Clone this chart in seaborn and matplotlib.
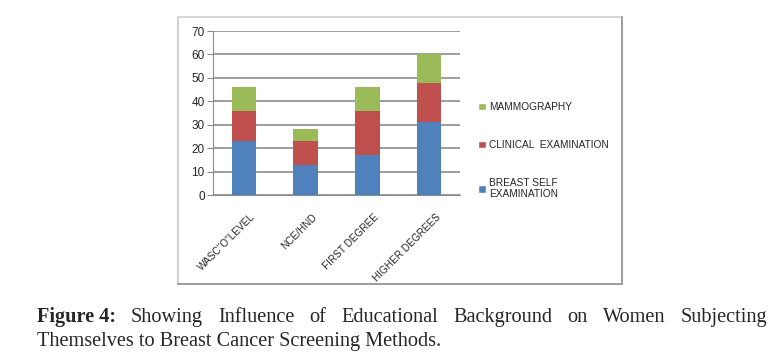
import numpy as np
import pandas as pd
import matplotlib
matplotlib.use("Agg")
import matplotlib.pyplot as plt
from matplotlib.patches import Patch
from matplotlib.lines import Line2D
import matplotlib.transforms as mtransforms
import seaborn as sns

# Datos
levels = ["WASC\"O\"LEVEL", "NCE/HND", "FIRST DEGREE", "HIGHER DEGREES"]
breast_self = [23, 13, 17, 31]
clinical = [13, 10, 19, 17]
mammography = [10, 5, 10, 12]

series_names = ["MAMMOGRAPHY", "CLINICAL  EXAMINATION", "BREAST SELF\nEXAMINATION"]
colors = {"blue": "#4F81BD", "red": "#C0504D", "green": "#9BBB59"}

sns.set_style("white")
plt.rcParams["font.family"] = ["Liberation Sans", "DejaVu Sans"]

W, H = 775, 362
fig = plt.figure(figsize=(W / 100, H / 100), dpi=100)
fig.patch.set_facecolor("white")

# ejes en píxeles: x 213-460, y 31-195
ax = fig.add_axes([213 / W, 1 - 195 / H, (460 - 213) / W, (195 - 31) / H])

df = pd.DataFrame({"nivel": levels,
                   "b": breast_self,
                   "c": clinical,
                   "m": mammography})
df["bc"] = df["b"] + df["c"]
df["bcm"] = df["bc"] + df["m"]

# barras apiladas: se dibuja primero el total
sns.barplot(data=df, x="nivel", y="bcm", color=colors["green"], width=0.4,
            saturation=1, linewidth=0, ax=ax, zorder=3)
sns.barplot(data=df, x="nivel", y="bc", color=colors["red"], width=0.4,
            saturation=1, linewidth=0, ax=ax, zorder=3)
sns.barplot(data=df, x="nivel", y="b", color=colors["blue"], width=0.4,
            saturation=1, linewidth=0, ax=ax, zorder=3)

ax.set_ylim(0, 70)
ax.set_xlim(-0.5, 3.5)
ax.set_yticks(range(0, 71, 10))
ax.yaxis.grid(True, color="#8c8c8c", linewidth=1.2, zorder=0)
ax.set_axisbelow(True)
ax.set_xlabel("")
ax.set_ylabel("")
for s in ["top", "right"]:
    ax.spines[s].set_visible(False)
ax.spines["left"].set_color("#8c8c8c")
ax.spines["bottom"].set_color("#8c8c8c")
ax.tick_params(axis="y", length=4, color="#8c8c8c", labelsize=8.5, pad=2, left=True)
ax.tick_params(axis="x", length=0, pad=12)
ax.set_xticks(range(4))
ax.set_xticklabels(levels, rotation=45, ha="right", rotation_mode="anchor",
                   fontsize=7.2)
for t in ax.get_xticklabels():
    t.set_transform(t.get_transform() + mtransforms.ScaledTranslation(
        6 / 100, 0, fig.dpi_scale_trans))

# leyenda
handles = [Patch(facecolor=colors["green"]), Patch(facecolor=colors["red"]),
           Patch(facecolor=colors["blue"])]
fig.legend(handles, series_names, loc="upper left",
           bbox_to_anchor=(469 / W, 1 - 93 / H), frameon=False, fontsize=7.3,
           handlelength=0.8, handleheight=0.8, handletextpad=0.3,
           labelspacing=2.75)

# marco del gráfico
fig.add_artist(Line2D([178 / W, 178 / W], [1 - 17 / H, 1 - 284 / H],
                      color="#d0d0d0", lw=1.5))
fig.add_artist(Line2D([178 / W, 622 / W], [1 - 17 / H, 1 - 17 / H],
                      color="#d8d8d8", lw=1.5))
fig.add_artist(Line2D([622 / W, 622 / W], [1 - 17 / H, 1 - 284 / H],
                      color="#8c8c8c", lw=1.2))
fig.add_artist(Line2D([178 / W, 622 / W], [1 - 284 / H, 1 - 284 / H],
                      color="#8c8c8c", lw=1.2))

# pie de figura, primera línea justificada
serif = ["Liberation Serif", "DejaVu Serif"]
cap_size = 14.6
words = ["Showing", "Influence", "of", "Educational", "Background", "on",
         "Women", "Subjecting"]
fig.canvas.draw()
renderer = fig.canvas.get_renderer()
x0, x1 = 37, 767
y1 = 1 - 322 / H
items = []
t = fig.text(x0 / W, y1, "Figure 4:", fontsize=cap_size, fontweight="bold",
             family=serif, va="baseline")
items.append(t)
for w in words:
    items.append(fig.text(0, y1, w, fontsize=cap_size, family=serif, va="baseline"))
widths = [it.get_window_extent(renderer).width for it in items]
gap = (x1 - x0 - sum(widths)) / (len(items) - 1)
x = x0
for it, wd in zip(items, widths):
    it.set_x(x / W)
    x += wd + gap
fig.text(x0 / W, 1 - 346 / H,
         "Themselves to Breast Cancer Screening Methods.",
         fontsize=cap_size, family=serif, va="baseline")

fig.savefig("out.png", dpi=100)
